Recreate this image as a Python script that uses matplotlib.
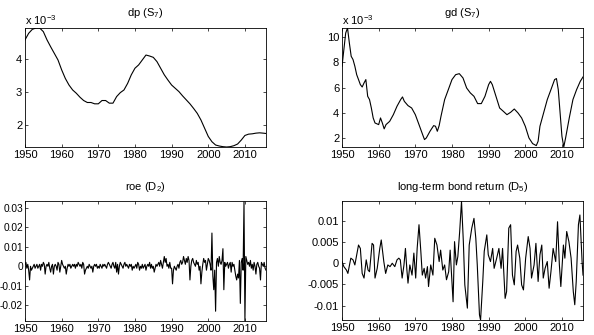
import numpy as np
import matplotlib
matplotlib.use('Agg')
import matplotlib.pyplot as plt

plt.rcParams['font.family'] = ['Liberation Sans', 'DejaVu Sans']
plt.rcParams['mathtext.default'] = 'regular'

# dp (S7), units of 1e-3, yearly readings
dp_years = [1950, 1951, 1952, 1953, 1954, 1955, 1956, 1957, 1958, 1959,
            1960, 1961, 1962, 1963, 1964, 1965, 1966, 1967, 1968, 1969,
            1970, 1971, 1972, 1973, 1974, 1975, 1976, 1977, 1978, 1979,
            1980, 1981, 1982, 1983, 1984, 1985, 1986, 1987, 1988, 1989,
            1990, 1991, 1992, 1993, 1994, 1995, 1996, 1997, 1998, 1999,
            2000, 2001, 2002, 2003, 2004, 2005, 2006, 2007, 2008, 2009,
            2010, 2011, 2012, 2013, 2014, 2015, 2015.75]
dp_vals = [4.57, 4.77, 4.89, 4.93, 4.93, 4.82, 4.57, 4.36, 4.16, 3.96,
           3.66, 3.40, 3.20, 3.05, 2.95, 2.83, 2.73, 2.67, 2.67, 2.63,
           2.63, 2.73, 2.73, 2.65, 2.65, 2.85, 2.97, 3.05, 3.25, 3.51,
           3.71, 3.81, 3.96, 4.11, 4.08, 4.04, 3.91, 3.71, 3.51, 3.35,
           3.20, 3.10, 3.00, 2.87, 2.75, 2.63, 2.49, 2.34, 2.14, 1.89,
           1.64, 1.48, 1.38, 1.35, 1.33, 1.32, 1.33, 1.36, 1.41, 1.53,
           1.67, 1.71, 1.72, 1.74, 1.75, 1.74, 1.73]

# gd (S7), units of 1e-3
gd_years = [1950, 1950.5, 1951, 1951.5, 1952, 1952.5, 1953, 1953.5, 1954, 1954.5,
            1955, 1955.5, 1956, 1956.5, 1957, 1957.5, 1958, 1958.5, 1959, 1960,
            1960.5, 1961, 1961.5, 1962, 1963, 1964, 1965, 1966, 1966.5, 1967,
            1968, 1969, 1970, 1971, 1972, 1972.5, 1973, 1974, 1975, 1975.5,
            1976, 1976.5, 1977, 1978, 1979, 1980, 1981, 1982, 1983, 1984,
            1985, 1986, 1987, 1988, 1989, 1990, 1990.5, 1991, 1992, 1993,
            1994, 1995, 1996, 1997, 1998, 1999, 2000, 2001, 2002, 2003,
            2003.5, 2004, 2005, 2006, 2007, 2008, 2008.5, 2009, 2010, 2010.5,
            2011, 2012, 2013, 2014, 2015, 2015.75]
gd_vals = [7.70, 9.02, 10.34, 10.74, 9.55, 8.49, 8.23, 7.70, 7.03, 6.64,
           6.24, 6.05, 6.37, 6.64, 5.31, 5.05, 4.38, 3.59, 3.19, 3.06,
           3.59, 3.19, 2.72, 3.06, 3.32, 3.85, 4.52, 5.05, 5.26, 4.91,
           4.57, 4.38, 3.85, 3.06, 2.26, 1.87, 2.00, 2.53, 2.98, 2.93,
           2.53, 2.98, 3.72, 5.05, 5.84, 6.64, 7.03, 7.11, 6.77, 5.97,
           5.58, 5.31, 4.73, 4.73, 5.31, 6.24, 6.50, 6.24, 5.31, 4.38,
           4.12, 3.85, 4.04, 4.30, 3.99, 3.59, 2.93, 2.00, 1.55, 1.39,
           1.74, 2.93, 3.99, 5.05, 5.84, 6.64, 6.72, 5.84, 2.13, 1.28,
           2.00, 3.59, 5.05, 5.84, 6.50, 6.85]

# roe (D2), quarterly, units of 1e-3
roe_vals = [1, 2, -1, 1, -2, -7, 0, -2, -1, 0, 1, -1, 0, 1, -1, 0,
            1, -2, 1, 0, 2, 1, -4, 0, 1, 0, 2, -1, -3, 0, 1, -4,
            0, 1, 0, -2, 2, 1, -3, 0, 3, 1, 0, -1, 0, -4, -1, 1,
            0, 1, -1, 0, 1, 0, 1, -1, 1, 0, 2, 1, 0, 1, -1, 2,
            1, -4, -2, -1, 0, -1, 1, 0, -1, 0, -3, 0, 1, 0, 1, -1,
            0, -1, 1, 0, -1, 1, 0, 1, 0, -1, 1, 2, 1, 0, -1, 1,
            2, 0, -1, 2, -3, 1, -4, 0, 2, 1, 0, -1, 1, 2, 0, 1,
            0, -1, 1, 0, 1, -2, 0, -1, 0, 1, -1, 2, 1, -2, 0, -1,
            1, -1, 0, 1, -2, 0, 1, 0, 2, -1, 1, -1, 0, -3, -1, 1,
            0, 1, 2, 0, 3, 1, -1, 2, 5, 2, 4, 0, 1, -1, 2, -1,
            -1, -9, -2, 0, -1, -2, 0, 1, -1, 2, 3, 1, 2, 5, 3, 1,
            4, 2, 5, 3, -7, 0, 3, 4, 2, 1, 0, 3, 1, 2, -2, 0,
            -9, -3, 1, 4, 2, 3, -2, 1, 4, 3, 1, -2, 17, -5, -12, -2,
            -23, 2, 4, 0, 5, 2, 1, 3, 9, -12, 2, 0, 1, 2, -1, 1,
            2, -3, 2, 0, 1, -2, -5, -7, -4, -6, 3, -19, 2, 4, -2, 33,
            -28, 5, 3, 1, 2, 0, 3, -1, 1, -2, 2, 0, -4, 1, 2, 0,
            -1, -7, 2, 1, 0, 2, -1, -2]
roe_years = [1950 + i / 4 for i in range(len(roe_vals))]

# long-term bond return (D5), units of 1e-3
bond_years = [1950, 1950.5, 1951.2, 1951.6, 1952.4, 1953, 1953.5, 1954, 1954.5, 1955,
              1955.5, 1956, 1956.6, 1957.1, 1957.5, 1958.2, 1958.6, 1959, 1959.6, 1960.3,
              1960.7, 1961.4, 1961.9, 1962.5, 1963.1, 1963.7, 1964.4, 1965, 1965.5, 1965.9,
              1966.4, 1966.9, 1967.3, 1967.7, 1968, 1968.5, 1969.1, 1969.6, 1970.1, 1970.5,
              1971, 1971.5, 1971.9, 1972.4, 1972.8, 1973.3, 1973.6, 1974.2, 1974.8, 1975.3,
              1975.9, 1976.5, 1976.9, 1977.5, 1978, 1978.5, 1979.1, 1979.5, 1980, 1980.3,
              1980.7, 1981.2, 1981.6, 1982.1, 1982.6, 1983.1, 1983.5, 1984.2, 1984.7, 1985.4,
              1986, 1986.5, 1986.9, 1987.5, 1987.8, 1988.4, 1988.8, 1989.5, 1989.9, 1990.5,
              1991.1, 1991.5, 1992.2, 1992.8, 1993.4, 1993.8, 1994.5, 1994.9, 1995.5, 1996,
              1996.5, 1997, 1997.5, 1997.9, 1998.5, 1999, 1999.5, 2000.1, 2000.8, 2001.3,
              2001.7, 2002.4, 2002.9, 2003.5, 2004, 2004.5, 2004.9, 2005.4, 2006, 2006.5,
              2007, 2007.6, 2008.3, 2008.8, 2009.3, 2009.7, 2010.4, 2010.8, 2011.3, 2011.9,
              2012.5, 2013.1, 2013.5, 2013.9, 2014.5, 2014.9, 2015.5, 2015.75]
bond_vals = [0.4, -0.8, -1.6, -2.4, 1.2, 0.8, -0.4, 2.0, 4.3, 3.5,
             -2.4, -3.5, 0.8, -1.6, -2.0, 4.7, 4.3, -3.5, -1.2, 3.5,
             5.5, 0.4, -2.4, -0.4, -0.8, 0.0, -0.8, 0.8, 1.2, 0.8,
             -3.5, -0.4, 3.5, -1.6, -4.7, -0.4, -2.8, 2.4, -3.5, 3.5,
             9.1, 2.8, -2.8, -1.2, -3.5, -0.8, -5.5, -0.4, -2.8, 5.9,
             4.3, 0.4, 3.1, -1.6, -0.4, -3.9, -2.0, 3.1, -4.3, -9.1,
             5.1, -0.4, 1.6, 7.5, 14.6, 5.1, -5.1, -10.6, 4.3, 8.3,
             10.6, 5.9, -0.4, -12.2, -13.4, -4.3, 2.8, 6.7, 2.0, 0.4,
             3.5, -1.2, 1.2, 3.5, -1.2, 3.5, -8.3, -6.7, 8.3, 9.1,
             -2.8, -5.1, 2.8, 4.3, 1.2, -5.1, -6.3, 1.2, 6.3, 3.5,
             -3.5, -0.4, 4.7, -4.3, 2.0, 4.3, -3.5, -1.2, 0.4, -5.9,
             -2.0, 3.5, 0.4, 9.8, -0.4, -5.5, 4.3, 1.2, 7.5, 5.1,
             1.2, -6.7, -9.8, -4.3, 9.1, 11.4, 0.4, -2.8]

fig = plt.figure(figsize=(5.94, 3.35), dpi=100)
w, h = 0.4057, 0.3552
ax1 = fig.add_axes([0.0421, 0.5612, w, h])
ax2 = fig.add_axes([0.5758, 0.5612, w, h])
ax3 = fig.add_axes([0.0421, 0.0418, w, 0.3582])
ax4 = fig.add_axes([0.5758, 0.0448, w, 0.3552])

ax1.plot(dp_years, dp_vals, color='black', lw=0.8)
ax2.plot(gd_years, gd_vals, color='black', lw=0.8)
ax3.plot(roe_years, np.array(roe_vals) * 1e-3, color='black', lw=0.8)
ax4.plot(bond_years, np.array(bond_vals) * 1e-3, color='black', lw=0.8)

ax1.set_ylim(1.32, 4.93)
ax1.set_yticks([2, 3, 4])
ax2.set_ylim(1.28, 10.74)
ax2.set_yticks([2, 4, 6, 8, 10])
ax3.set_ylim(-0.028, 0.0334)
ax3.set_yticks([-0.02, -0.01, 0, 0.01, 0.02, 0.03])
ax3.set_yticklabels(['-0.02', '-0.01', '0', '0.01', '0.02', '0.03'])
ax4.set_ylim(-0.0134, 0.0147)
ax4.set_yticks([-0.01, -0.005, 0, 0.005, 0.01])
ax4.set_yticklabels(['-0.01', '-0.005', '0', '0.005', '0.01'])

titles = ['dp (S$_7$)', 'gd (S$_7$)', 'roe (D$_2$)', 'long-term bond return (D$_5$)']
for ax, t in zip([ax1, ax2, ax3, ax4], titles):
    ax.set_xlim(1950, 2015.75)
    ax.set_xticks(range(1950, 2011, 10))
    ax.tick_params(direction='in', top=True, right=True, labelsize=8,
                   length=2.5, width=0.5, pad=2)
    for s in ax.spines.values():
        s.set_linewidth(0.6)
    ax.set_title(t, fontsize=8, pad=9 if ax in (ax1, ax2) else 8)

# the roe labels sit right against the figure edge
ax3.tick_params(axis='y', labelsize=7.3, pad=1.5)

for ax in [ax1, ax2]:
    ax.text(0.0, 1.005, r'x 10$^{-3}$', transform=ax.transAxes, fontsize=8,
            ha='left', va='bottom')

fig.savefig('out.png', dpi=100)
